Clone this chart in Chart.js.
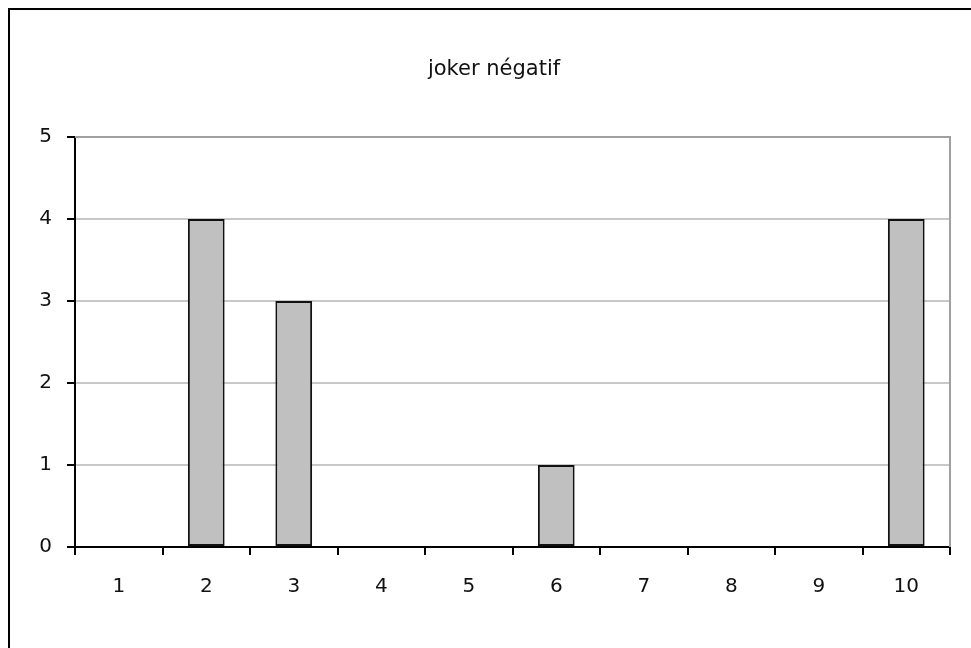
<!DOCTYPE html>
<html>
<head>
<meta charset="utf-8">
<script src="https://cdn.jsdelivr.net/npm/chart.js@4/dist/chart.umd.min.js"></script>
<style>
  html, body { margin: 0; padding: 0; background: #fff; }
  body { width: 971px; height: 648px; overflow: hidden; position: relative; }
  #frame { position: absolute; left: 8px; top: 8px; width: 1000px; height: 700px;
           border-left: 2px solid #000; border-top: 2px solid #000; box-sizing: border-box; }
  #wrap { position: absolute; left: 0; top: 0; width: 971px; height: 648px; }
</style>
</head>
<body>
<div id="frame"></div>
<div id="wrap"><canvas id="c" width="971" height="648"></canvas></div>
<script>
// Categories and counts
const categories = ['1', '2', '3', '4', '5', '6', '7', '8', '9', '10'];
const counts = [0, 4, 3, 0, 0, 1, 0, 0, 0, 4];
const chartTitle = 'joker négatif';
const yMin = 0, yMax = 5, yStep = 1;

const FONT = 'DejaVu Sans, Verdana, sans-serif';

// Gray border around the plot area (top and right edges), drawn beneath bars
const plotFrame = {
  id: 'plotFrame',
  beforeDatasetsDraw(chart) {
    const { ctx, chartArea: a } = chart;
    ctx.save();
    ctx.strokeStyle = '#a0a0a0';
    ctx.lineWidth = 2;
    ctx.beginPath();
    ctx.moveTo(a.left, a.top);
    ctx.lineTo(a.right, a.top);
    ctx.lineTo(a.right, a.bottom);
    ctx.stroke();
    ctx.restore();
  }
};

// Title centred over the chart frame
const titleText = {
  id: 'titleText',
  afterDraw(chart) {
    const { ctx } = chart;
    ctx.save();
    ctx.font = '21px ' + FONT;
    ctx.fillStyle = '#111';
    ctx.textAlign = 'center';
    ctx.textBaseline = 'middle';
    ctx.fillText(chartTitle, 494, 70);
    ctx.restore();
  }
};

new Chart(document.getElementById('c'), {
  type: 'bar',
  data: {
    labels: categories,
    datasets: [{
      data: counts,
      backgroundColor: '#c0c0c0',
      borderColor: '#111',
      borderWidth: 2,
      borderSkipped: false,
      categoryPercentage: 1,
      barPercentage: 0.42
    }]
  },
  options: {
    responsive: false,
    animation: false,
    devicePixelRatio: 1,
    layout: { padding: { left: 0, top: 137, right: 21, bottom: 0 } },
    plugins: { legend: { display: false }, tooltip: { enabled: false }, title: { display: false } },
    scales: {
      x: {
        offset: true,
        grid: { offset: true, drawOnChartArea: false, drawTicks: true, tickLength: 8, tickColor: '#000', lineWidth: 2 },
        border: { display: true, color: '#000', width: 2 },
        ticks: { color: '#111', font: { family: FONT, size: 20 }, padding: 20, maxRotation: 0 },
        afterFit(s) { s.height = 101; }
      },
      y: {
        min: yMin, max: yMax,
        grid: { color: '#c8c8c8', lineWidth: 2, drawTicks: true, tickLength: 8, tickColor: '#000' },
        border: { display: true, color: '#000', width: 2 },
        ticks: { stepSize: yStep, color: '#111', font: { family: FONT, size: 20 }, padding: 15 },
        afterFit(s) { s.width = 75; }
      }
    }
  },
  plugins: [plotFrame, titleText]
});
</script>
</body>
</html>
